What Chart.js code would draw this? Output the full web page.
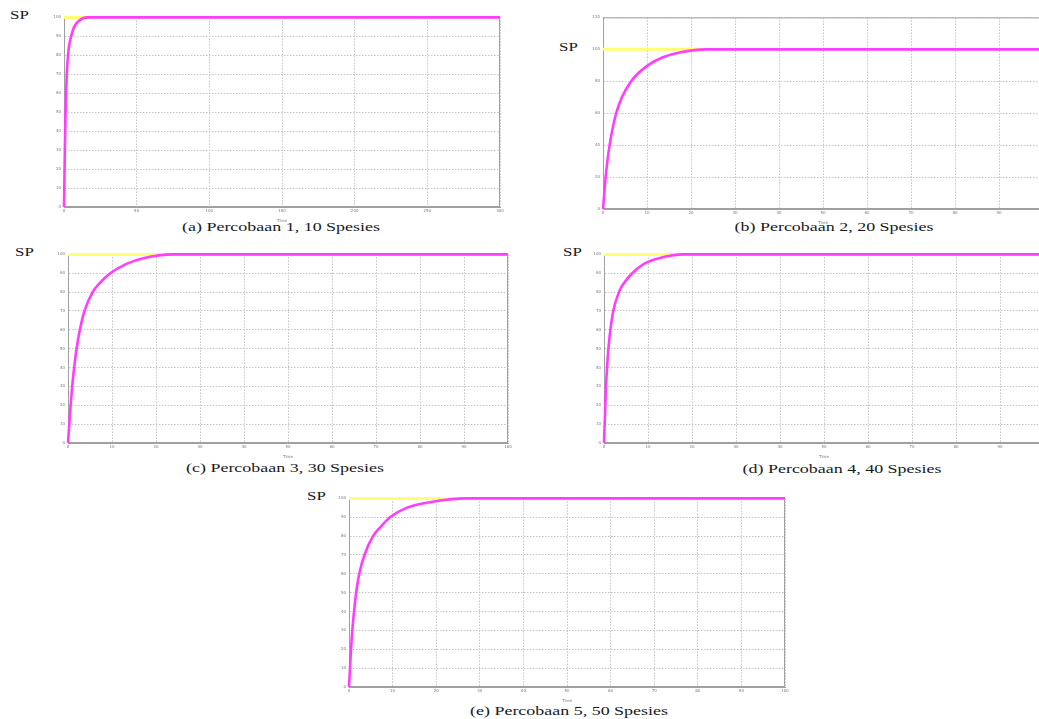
<!DOCTYPE html>
<html>
<head>
<meta charset="utf-8">
<script src="https://cdn.jsdelivr.net/npm/chart.js@4.4.0/dist/chart.umd.min.js"></script>
<style>
  html, body { margin:0; padding:0; background:#fff; width:1039px; height:719px; overflow:hidden; position:relative; }
  .box { position:absolute; }
  .lbl { position:absolute; font-family:"Liberation Serif","DejaVu Serif",serif; color:#1a1a1a; white-space:nowrap; transform-origin:left top; }
  .sp { font-size:12.5px; transform:scaleX(1.35); }
  .cap { font-size:13.5px; transform:translateX(-50%) scaleX(1.33); transform-origin:center top; }
</style>
</head>
<body>
<div class="lbl sp" style="left:10px;top:8px;">SP</div>
<div class="lbl sp" style="left:559px;top:40px;">SP</div>
<div class="lbl sp" style="left:15px;top:245px;">SP</div>
<div class="lbl sp" style="left:563px;top:245px;">SP</div>
<div class="lbl sp" style="left:307px;top:489px;">SP</div>

<div class="lbl cap" style="left:281px;top:219px;">(a) Percobaan 1, 10 Spesies</div>
<div class="lbl cap" style="left:834px;top:219px;">(b) Percobaan 2, 20 Spesies</div>
<div class="lbl cap" style="left:285px;top:460px;">(c) Percobaan 3, 30 Spesies</div>
<div class="lbl cap" style="left:842px;top:461px;">(d) Percobaan 4, 40 Spesies</div>
<div class="lbl cap" style="left:569px;top:703px;">(e) Percobaan 5, 50 Spesies</div>

<div class="box" style="left:44px;top:12px;width:462px;height:211px;"><canvas id="cA"></canvas></div>
<div class="box" style="left:583px;top:12px;width:466px;height:213px;"><canvas id="cB"></canvas></div>
<div class="box" style="left:48px;top:249px;width:466px;height:210px;"><canvas id="cC"></canvas></div>
<div class="box" style="left:584px;top:249px;width:466px;height:210px;"><canvas id="cD"></canvas></div>
<div class="box" style="left:329px;top:493px;width:462px;height:210px;"><canvas id="cE"></canvas></div>

<script>
// ---- data ----
const levels = [0, 10, 20, 30, 40, 50, 60, 70, 80, 85, 90, 95, 98, 100, 100];

const timeA = [0, 0.2, 0.4, 0.6, 0.82, 1.08, 1.42, 1.92, 2.75, 3.5, 4.9, 7, 10, 16, 300];
const valA  = levels;

const timeB = [0, 0.3, 0.6, 1.0, 1.5, 2.15, 3.0, 4.3, 6.4, 8.0, 10.2, 13.6, 17.4, 23.5, 100];
const valB  = levels;

const timeC = [0, 0.3, 0.6, 0.95, 1.4, 1.95, 2.7, 3.75, 5.6, 7.3, 9.6, 13.3, 17.1, 24, 100];
const valC  = levels;

const timeD = [0, 0.15, 0.3, 0.45, 0.7, 1.0, 1.45, 2.1, 3.4, 4.6, 6.4, 9.1, 12.5, 18, 100];
const valD  = levels;

const timeE = [0, 0.23, 0.46, 0.76, 1.15, 1.65, 2.35, 3.55, 5.5, 7.3, 9.4, 13.2, 18.5, 27, 100];
const valE  = levels;

const setPoint = 100;
const xMaxA = 300, xStepA = 50;
const xMax = 100, xStep = 10;
const yMaxB = 120, yStepB = 20;
const yMax = 100, yStep = 10;
const xTitle = 'Time';

// ---- helpers ----
const boxPlugin = {
  id: 'boxFrame',
  beforeDatasetsDraw(chart) {
    const {ctx, chartArea: a} = chart;
    ctx.save();
    ctx.strokeStyle = '#a0a0a0';
    ctx.lineWidth = 1;
    ctx.strokeRect(a.left + 0.5, a.top + 0.5, a.right - a.left - 1, a.bottom - a.top - 1);
    ctx.restore();
  }
};

function makeChart(id, times, vals, xmax, xstep, ymax, ystep) {
  const pts = times.map((t, i) => ({x: t, y: vals[i]}));
  const sp = [{x: 0, y: setPoint}, {x: xmax, y: setPoint}];
  new Chart(document.getElementById(id), {
    type: 'line',
    data: {
      datasets: [
        { data: pts, borderColor: '#ff3cff', borderWidth: 2.6, pointRadius: 0, cubicInterpolationMode: 'monotone', order: 0, clip: 4 },
        { data: sp, borderColor: '#ffff70', borderWidth: 3, pointRadius: 0, order: 1, clip: 4 }
      ]
    },
    options: {
      responsive: true,
      maintainAspectRatio: false,
      animation: false,
      events: [],
      layout: { padding: { top: 5, right: 6, left: 0, bottom: 0 } },
      plugins: { legend: { display: false }, tooltip: { enabled: false } },
      scales: {
        x: {
          type: 'linear', min: 0, max: xmax,
          afterFit: s => { s.height = 16; },
          ticks: { stepSize: xstep, font: { size: 4, family: 'DejaVu Sans' }, color: '#777', padding: 2, maxRotation: 0, autoSkip: false },
          grid: { color: '#c4c4c4', lineWidth: 1, drawTicks: false },
          border: { display: true, color: '#a0a0a0', dash: [1.5, 1.5] },
          title: { display: true, text: xTitle, font: { size: 4, family: 'DejaVu Sans' }, color: '#777', padding: { top: 0, bottom: 0 } }
        },
        y: {
          type: 'linear', min: 0, max: ymax,
          afterFit: s => { s.width = 20; },
          ticks: { stepSize: ystep, font: { size: 4, family: 'DejaVu Sans' }, color: '#777', padding: 3 },
          grid: { color: '#c4c4c4', lineWidth: 1, drawTicks: false },
          border: { display: true, color: '#a0a0a0', dash: [1.5, 1.5] }
        }
      }
    },
    plugins: [boxPlugin]
  });
}

makeChart('cA', timeA, valA, xMaxA, xStepA, yMax, yStep);
makeChart('cB', timeB, valB, xMax, xStep, yMaxB, yStepB);
makeChart('cC', timeC, valC, xMax, xStep, yMax, yStep);
makeChart('cD', timeD, valD, xMax, xStep, yMax, yStep);
makeChart('cE', timeE, valE, xMax, xStep, yMax, yStep);
</script>
</body>
</html>
